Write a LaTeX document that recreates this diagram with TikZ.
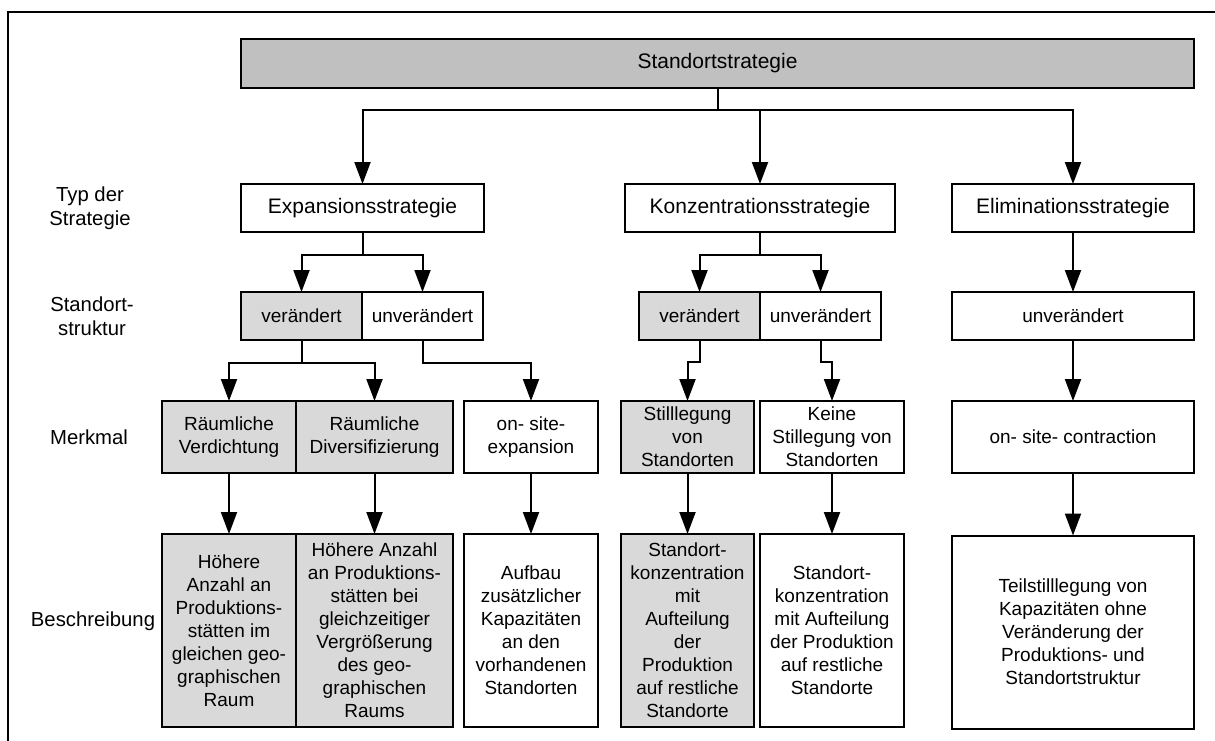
\documentclass[tikz,border=0pt]{standalone}
\usepackage{fontspec}
\setmainfont{Liberation Sans}
\usetikzlibrary{arrows.meta}
\definecolor{headgray}{RGB}{192,192,192}
\definecolor{boxgray}{RGB}{217,217,217}
\begin{document}
\begin{tikzpicture}[x=1pt,y=-1pt,
  every node/.style={font=\fontsize{19}{23}\selectfont, align=center, inner sep=0pt, outer sep=0pt},
  big/.style={font=\fontsize{21}{24.5}\selectfont},
  box/.style={draw, line width=2pt, fill=white},
  graybox/.style={box, fill=boxgray},
  headbox/.style={box, fill=headgray},
  link/.style={line width=2pt},
  arr/.style={link, -{Triangle[length=22pt,width=16pt]}},
  lbl/.style={font=\fontsize{20.3}{24.5}\selectfont, text=black}
]
\useasboundingbox (0,0) rectangle (1215,740);

% outer frame
\draw[line width=2pt] (8,760) -- (8,12) -- (1230,12);

% top level
\node[headbox, big, minimum width=953pt, minimum height=49pt] (top) at (717.5,63.5) {Standortstrategie};

% strategy types
\node[box, big, minimum width=243pt, minimum height=48pt] (exp)  at (362.5,208) {Expansionsstrategie};
\node[box, big, minimum width=270pt, minimum height=48pt] (konz) at (760,208)   {Konzentrationsstrategie};
\node[box, big, minimum width=242pt, minimum height=48pt] (elim) at (1073,208)  {Eliminationsstrategie};

% location structure
\node[graybox, minimum width=121pt, minimum height=48pt] (ev)  at (301.5,316) {verändert};
\node[box,     minimum width=121pt, minimum height=48pt] (eu)  at (422.5,316) {unverändert};
\node[graybox, minimum width=121pt, minimum height=48pt] (kv)  at (699.5,316) {verändert};
\node[box,     minimum width=121pt, minimum height=48pt] (ku)  at (820.5,316) {unverändert};
\node[box,     minimum width=242pt, minimum height=48pt] (eu2) at (1073,316)  {unverändert};

% features
\node[graybox, minimum width=134pt, minimum height=72pt] (rv)  at (229,437)   {Räumliche\\Verdichtung};
\node[graybox, minimum width=157pt, minimum height=72pt] (rd)  at (374.5,437) {Räumliche\\Diversifizierung};
\node[box,     minimum width=134pt, minimum height=72pt] (ose) at (531,437)   {on- site-\\expansion};
\node[graybox, minimum width=133pt, minimum height=72pt] (ks)  at (687.5,437) {Stilllegung\\von\\Standorten};
\node[box,     minimum width=144pt, minimum height=72pt] (kk)  at (832,437)   {Keine\\Stillegung von\\Standorten};
\node[box,     minimum width=242pt, minimum height=72pt] (eoc) at (1073,437)  {on- site- contraction};

% descriptions
\node[graybox, minimum width=134pt, minimum height=193pt] (hv)  at (229,630.5)
  {Höhere\\Anzahl an\\Produktions-\\stätten im\\gleichen geo-\\graphischen\\Raum};
\node[graybox, minimum width=157pt, minimum height=193pt] (hd)  at (374.5,630.5)
  {Höhere Anzahl\\an Produktions-\\stätten bei\\gleichzeitiger\\Vergrößerung\\des geo-\\graphischen\\Raums};
\node[box,     minimum width=134pt, minimum height=193pt] (auf) at (531,630.5)
  {Aufbau\\zusätzlicher\\Kapazitäten\\an den\\vorhandenen\\Standorten};
\node[graybox, minimum width=133pt, minimum height=193pt] (kb1) at (687.5,630.5)
  {Standort-\\konzentration\\mit\\Aufteilung\\der\\Produktion\\auf restliche\\Standorte};
\node[box,     minimum width=144pt, minimum height=193pt] (kb2) at (832,630.5)
  {Standort-\\konzentration\\mit Aufteilung\\der Produktion\\auf restliche\\Standorte};
\node[box,     minimum width=242pt, minimum height=193pt] (teil) at (1073,632)
  {Teilstilllegung von\\Kapazitäten ohne\\Veränderung der\\Produktions- und\\Standortstruktur};

% row labels
\node[lbl] (l1) at (90,208) {Typ der\\Strategie};
\node[lbl] (l2) at (92,316) {Standort-\\struktur};
\node[lbl] (l3) at (89,437) {Merkmal};
\node[lbl] (l4) at (93,621) {Beschreibung};

% connectors: top level to strategy types
\coordinate (j0) at (717.5,110);
\draw[link] (top.south) -- (j0);
\draw[arr] (j0) -| (exp.north);
\draw[arr] (j0) -| (konz.north);
\draw[arr] (j0) -| (elim.north);

% strategy types to location structure
\coordinate (j1) at (362.5,255);
\draw[link] (exp.south) -- (j1);
\draw[arr] (j1) -| (ev.north);
\draw[arr] (j1) -| (eu.north);
\coordinate (j2) at (760,255);
\draw[link] (konz.south) -- (j2);
\draw[arr] (j2) -| (kv.north);
\draw[arr] (j2) -| (ku.north);
\draw[arr] (elim.south) -- (eu2.north);

% location structure to features
\coordinate (j3) at (301.5,363);
\draw[link] (ev.south) -- (j3);
\draw[arr] (j3) -| (rv.north);
\draw[arr] (j3) -| (rd.north);
\draw[arr] (eu.south) -- ++(0,23) -| (ose.north);
\draw[arr] (kv.south) -- ++(0,22) -| (ks.north);
\draw[arr] (ku.south) -- ++(0,22) -| (kk.north);
\draw[arr] (eu2.south) -- (eoc.north);

% features to descriptions
\draw[arr] (rv.south)  -- (hv.north);
\draw[arr] (rd.south)  -- (hd.north);
\draw[arr] (ose.south) -- (auf.north);
\draw[arr] (ks.south)  -- (kb1.north);
\draw[arr] (kk.south)  -- (kb2.north);
\draw[arr] (eoc.south) -- (teil.north);
\end{tikzpicture}
\end{document}
